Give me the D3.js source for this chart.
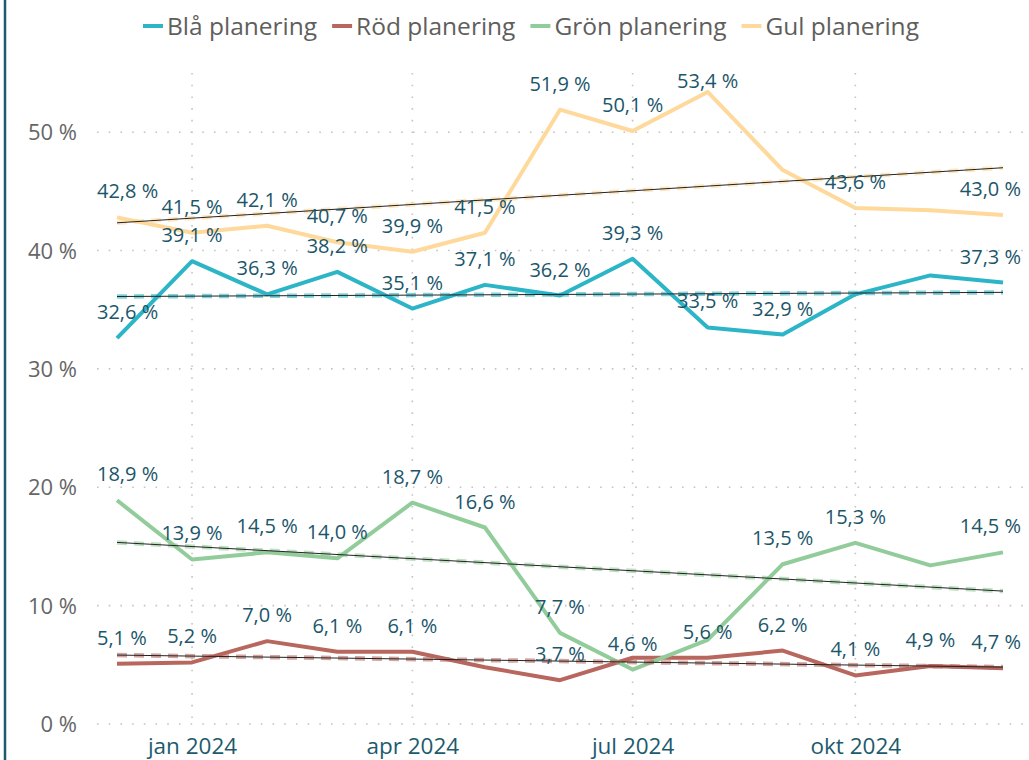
<!DOCTYPE html>
<html>
<head>
<meta charset="utf-8">
<script src="https://cdn.jsdelivr.net/npm/d3@7"></script>
<style>
  body { margin: 0; background: #fff; }
  svg { display: block; font-family: "Segoe UI", "Open Sans", sans-serif; }
</style>
</head>
<body>
<div id="chart"></div>
<script>
var months = ["2023-12", "2024-01", "2024-02", "2024-03", "2024-04", "2024-05", "2024-06",
              "2024-07", "2024-08", "2024-09", "2024-10", "2024-11", "2024-12"];

var seriesNames = ["Blå planering", "Röd planering", "Grön planering", "Gul planering"];
var seriesColors = ["#2bb5c7", "#b8675e", "#92cc9a", "#fed99b"];

var blue   = [32.6, 39.1, 36.3, 38.2, 35.1, 37.1, 36.2, 39.3, 33.5, 32.9, 36.3, 37.9, 37.3];
var red    = [5.1, 5.2, 7.0, 6.1, 6.1, 4.8, 3.7, 5.6, 5.6, 6.2, 4.1, 4.9, 4.7];
var green  = [18.9, 13.9, 14.5, 14.0, 18.7, 16.6, 7.7, 4.6, 7.1, 13.5, 15.3, 13.4, 14.5];
var yellow = [42.8, 41.5, 42.1, 40.7, 39.9, 41.5, 51.9, 50.1, 53.4, 46.8, 43.6, 43.4, 43.0];

// labels that the original chart leaves out (month index)
var hiddenLabels = [[10, 11], [5, 7], [8, 11], [9, 11]];

var yTicks = [0, 10, 20, 30, 40, 50];
var monthShort = ["jan", "feb", "mar", "apr", "maj", "jun", "jul", "aug", "sep", "okt", "nov", "dec"];

var width = 1029, height = 760;
var plotLeft = 97, plotRight = 1023, plotTop = 73, plotBottom = 724;

var sv = d3.formatLocale({decimal: ",", thousands: " ", grouping: [3], currency: ["", " kr"]});
var fmt = sv.format(".1f");

var parse = d3.timeParse("%Y-%m");
var dates = months.map(parse);
var values = [blue, red, green, yellow];

var series = seriesNames.map(function (name, i) {
    return {
        name: name,
        color: seriesColors[i],
        hidden: hiddenLabels[i],
        points: dates.map(function (d, j) { return {date: d, value: values[i][j], i: j}; })
    };
});

var x = d3.scaleTime()
    .domain(d3.extent(dates))
    .range([117, 1003]);

var y = d3.scaleLinear()
    .domain([0, 55])
    .range([plotBottom, plotTop]);

var svg = d3.select("#chart").append("svg")
    .attr("width", width)
    .attr("height", height);

// frame on the left side
svg.append("line")
    .attr("x1", 5).attr("x2", 5)
    .attr("y1", 0).attr("y2", height)
    .attr("stroke", "#1e5a6c")
    .attr("stroke-width", 2.5);

// horizontal grid
svg.append("g").selectAll("line")
    .data(yTicks)
  .enter().append("line")
    .attr("x1", plotLeft).attr("x2", plotRight)
    .attr("y1", function (d) { return y(d); })
    .attr("y2", function (d) { return y(d); })
    .attr("stroke", "#c4c4c4")
    .attr("stroke-width", 1.6)
    .attr("stroke-dasharray", "1.6,10.1");

var quarterTicks = dates.filter(function (d) { return d.getMonth() % 3 === 0; });

// vertical grid
svg.append("g").selectAll("line")
    .data(quarterTicks)
  .enter().append("line")
    .attr("x1", function (d) { return x(d); })
    .attr("x2", function (d) { return x(d); })
    .attr("y1", plotTop).attr("y2", plotBottom)
    .attr("stroke", "#c4c4c4")
    .attr("stroke-width", 1.6)
    .attr("stroke-dasharray", "1.6,10.1");

// y axis
var yAxis = d3.axisLeft(y)
    .tickValues(yTicks)
    .tickSize(0)
    .tickPadding(0)
    .tickFormat(function (d) { return d + " %"; });

var yg = svg.append("g")
    .attr("transform", "translate(77,0)")
    .call(yAxis);
yg.select(".domain").remove();
yg.selectAll("text")
    .attr("fill", "#666666")
    .attr("font-size", 22)
    .attr("dy", "0.35em")
    .style("font-family", "\"Segoe UI\", \"Open Sans\", sans-serif");

// x axis
var xAxis = d3.axisBottom(x)
    .tickValues(quarterTicks)
    .tickSize(0)
    .tickPadding(0)
    .tickFormat(function (d) { return monthShort[d.getMonth()] + " " + d.getFullYear(); });

var xg = svg.append("g")
    .attr("transform", "translate(0,746)")
    .call(xAxis);
xg.select(".domain").remove();
xg.selectAll("text")
    .attr("fill", "#1d5a6d")
    .attr("font-size", 22.5)
    .attr("dy", "0.35em")
    .style("font-family", "\"Segoe UI\", \"Open Sans\", sans-serif");

var line = d3.line()
    .x(function (d) { return x(d.date); })
    .y(function (d) { return y(d.value); });

// series lines
svg.append("g").selectAll("path")
    .data(series)
  .enter().append("path")
    .attr("d", function (s) { return line(s.points); })
    .attr("fill", "none")
    .attr("stroke", function (s) { return s.color; })
    .attr("stroke-width", 4)
    .attr("stroke-linejoin", "round");

// linear trend per series
function trend(s) {
    var n = s.points.length;
    var mx = d3.mean(s.points, function (d) { return d.i; });
    var my = d3.mean(s.points, function (d) { return d.value; });
    var sxy = d3.sum(s.points, function (d) { return (d.i - mx) * (d.value - my); });
    var sxx = d3.sum(s.points, function (d) { return (d.i - mx) * (d.i - mx); });
    var b = sxy / sxx, a = my - b * mx;
    var first = s.points[0], last = s.points[n - 1];
    return [
        {date: first.date, value: a + b * first.i},
        {date: last.date, value: a + b * last.i}
    ];
}

var trends = svg.append("g");
series.forEach(function (s) {
    var t = trend(s);
    trends.append("path")
        .attr("d", line(t))
        .attr("fill", "none")
        .attr("stroke", s.color)
        .attr("stroke-opacity", 0.6)
        .attr("stroke-width", 4.5)
        .attr("stroke-dasharray", "10,7");
    trends.append("path")
        .attr("d", line(t))
        .attr("fill", "none")
        .attr("stroke", "#222")
        .attr("stroke-width", 1);
});

// data labels, kept inside the plot area
var labels = svg.append("g");
series.forEach(function (s) {
    labels.selectAll(null)
        .data(s.points.filter(function (d) { return s.hidden.indexOf(d.i) < 0; }))
      .enter().append("text")
        .attr("x", function (d) { return x(d.date); })
        .attr("y", function (d) { return Math.max(y(d.value) - 26, plotTop + 8); })
        .attr("dy", "0.35em")
        .attr("text-anchor", "middle")
        .attr("font-size", 20)
        .attr("fill", "#1b566a")
        .text(function (d) { return fmt(d.value) + " %"; })
        .each(function (d) {
            var w = this.getComputedTextLength();
            var cx = x(d.date);
            cx = Math.max(cx, plotLeft + w / 2);
            cx = Math.min(cx, plotRight - 2 - w / 2);
            d3.select(this).attr("x", cx);
        });
});

// legend
var legend = svg.append("g").attr("transform", "translate(143,26)");
var lx = 0;
series.forEach(function (s) {
    var item = legend.append("g").attr("transform", "translate(" + lx + ",0)");
    item.append("line")
        .attr("x1", 0).attr("x2", 20)
        .attr("stroke", s.color)
        .attr("stroke-width", 4);
    var txt = item.append("text")
        .attr("x", 24)
        .attr("dy", "0.35em")
        .attr("font-size", 24.5)
        .attr("fill", "#605e5c")
        .text(s.name);
    lx += 24 + txt.node().getComputedTextLength() + 15;
});
</script>
</body>
</html>
